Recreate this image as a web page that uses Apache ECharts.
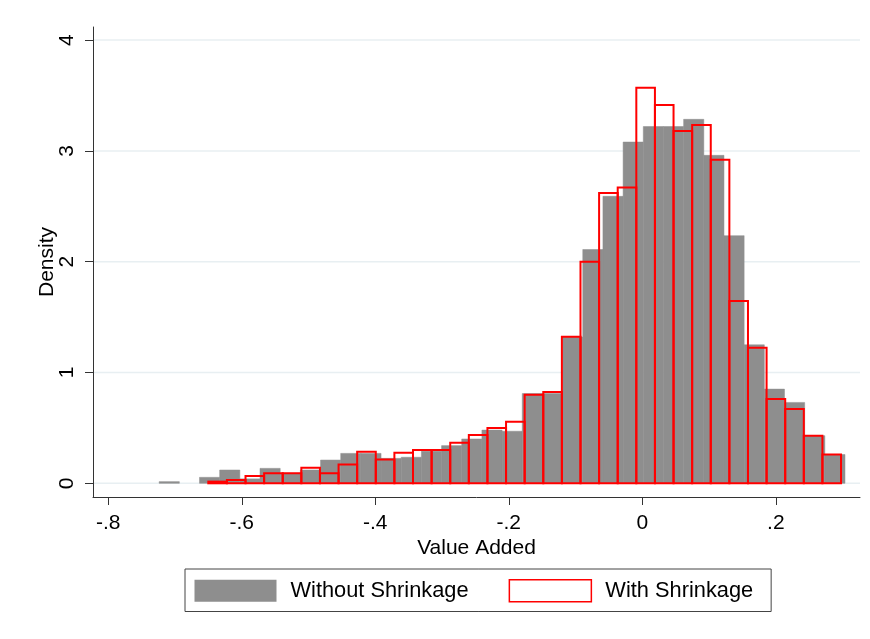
<!DOCTYPE html>
<html>
<head>
<meta charset="utf-8">
<script src="https://cdn.jsdelivr.net/npm/echarts@6/dist/echarts.min.js"></script>
<style>
  html, body { margin: 0; padding: 0; background: #ffffff; }
  #chart { width: 870px; height: 639px; }
</style>
</head>
<body>
<div id="chart"></div>
<script>
// ---- data ----
const xTicks = [-0.8, -0.6, -0.4, -0.2, 0, 0.2];
const xTickLabels = ['-.8', '-.6', '-.4', '-.2', '0', '.2'];
const yTicks = [0, 1, 2, 3, 4];
const yTickLabels = ['0', '1', '2', '3', '4'];

// Without Shrinkage histogram: first bin lower edge, bin width, densities
const grayStart = -0.7238;
const grayWidth = 0.03022;
const grayHeights = [0.015, 0, 0.054, 0.12, 0.04, 0.135, 0.09, 0.12, 0.21, 0.27,
  0.27, 0.225, 0.235, 0.29, 0.34, 0.40, 0.48, 0.47, 0.81, 0.81,
  1.32, 2.11, 2.59, 3.08, 3.22, 3.22, 3.285, 2.96, 2.235, 1.25,
  0.85, 0.73, 0.43, 0.26];

// With Shrinkage histogram
const redStart = -0.6502;
const redWidth = 0.02788;
const redHeights = [0.015, 0.03, 0.066, 0.09, 0.09, 0.14, 0.09, 0.17, 0.285, 0.215,
  0.275, 0.30, 0.30, 0.366, 0.435, 0.50, 0.556, 0.80, 0.824, 1.323,
  2.00, 2.62, 2.67, 3.57, 3.414, 3.18, 3.234, 2.92, 1.645, 1.224,
  0.76, 0.67, 0.43, 0.26];

const seriesNames = ['Without Shrinkage', 'With Shrinkage'];

// ---- build ----
function bins(start, width, heights) {
  return heights.map((h, i) => [start + i * width, start + (i + 1) * width, h]);
}

const GRAY = '#8e8e8e';
const RED = '#ff0000';
const FONT = 'Liberation Sans, Arial, sans-serif';

function barRenderer(style) {
  return function (params, api) {
    const x0 = api.value(0), x1 = api.value(1), h = api.value(2);
    if (!(h > 0)) return null;
    const pTop = api.coord([x0, h]);
    const pBot = api.coord([x1, 0]);
    return {
      type: 'rect',
      shape: { x: pTop[0], y: pTop[1], width: pBot[0] - pTop[0], height: pBot[1] - pTop[1] },
      style: style
    };
  };
}

const xMin = -0.82292, xMax = 0.32614;
const yMin = -0.12365, yMax = 4.1183;

const chart = echarts.init(document.getElementById('chart'), null, { renderer: 'canvas' });
chart.setOption({
  animation: false,
  backgroundColor: '#ffffff',
  grid: { left: 93, right: 10, top: 27, bottom: 142, containLabel: false },
  xAxis: {
    type: 'value',
    min: xMin, max: xMax,
    name: 'Value Added',
    nameLocation: 'middle',
    nameGap: 41,
    nameMoveOverlap: false,
    nameTextStyle: { fontSize: 21, fontFamily: FONT, color: '#000' },
    axisLine: { show: true, onZero: false, lineStyle: { color: '#333', width: 1 } },
    axisTick: { show: true, length: 8, customValues: xTicks, lineStyle: { color: '#333', width: 1 } },
    axisLabel: {
      customValues: xTicks,
      margin: 16,
      fontSize: 21, fontFamily: FONT, color: '#000',
      formatter: function (v) {
        const i = xTicks.findIndex(t => Math.abs(t - v) < 1e-9);
        return i >= 0 ? xTickLabels[i] : '';
      }
    },
    splitLine: { show: false }
  },
  yAxis: {
    type: 'value',
    min: yMin, max: yMax,
    name: 'Density',
    nameLocation: 'middle',
    nameGap: 35,
    nameMoveOverlap: false,
    nameTextStyle: { fontSize: 21, fontFamily: FONT, color: '#000' },
    axisLine: { show: true, onZero: false, lineStyle: { color: '#333', width: 1 } },
    axisTick: { show: true, length: 8, customValues: yTicks, lineStyle: { color: '#333', width: 1 } },
    axisLabel: {
      customValues: yTicks,
      rotate: 90,
      margin: 15,
      fontSize: 21, fontFamily: FONT, color: '#000',
      formatter: function (v) {
        const i = yTicks.findIndex(t => Math.abs(t - v) < 1e-9);
        return i >= 0 ? yTickLabels[i] : '';
      }
    },
    splitLine: { show: false }
  },
  legend: {
    left: 185, top: 569,
    orient: 'horizontal',
    padding: [10, 18, 9, 9.5],
    itemWidth: 82, itemHeight: 22, itemGap: 40,
    borderColor: '#444', borderWidth: 1,
    selectedMode: false,
    textStyle: { fontSize: 21.8, fontFamily: FONT, color: '#000', padding: [0, 0, 0, 9] },
    data: [
      { name: seriesNames[0], icon: 'rect', itemStyle: { color: GRAY, borderWidth: 0 } },
      { name: seriesNames[1], icon: 'rect', itemStyle: { color: '#ffffff', borderColor: RED, borderWidth: 1.5 } }
    ]
  },
  series: [
    {
      name: 'grid',
      type: 'custom',
      silent: true,
      z: 1,
      encode: { x: 0, y: 1 },
      data: yTicks.map(v => [0, v]),
      renderItem: function (params, api) {
        const cs = params.coordSys;
        const y = api.coord([0, api.value(1)])[1];
        return {
          type: 'line',
          shape: { x1: cs.x + 1, y1: y, x2: cs.x + cs.width, y2: y },
          style: { stroke: '#e8eff2', lineWidth: 1.5 }
        };
      }
    },
    {
      name: seriesNames[0],
      type: 'custom',
      z: 2,
      itemStyle: { color: GRAY },
      encode: { x: [0, 1], y: 2 },
      data: bins(grayStart, grayWidth, grayHeights),
      renderItem: barRenderer({ fill: GRAY, stroke: GRAY, lineWidth: 0.5 })
    },
    {
      name: seriesNames[1],
      type: 'custom',
      z: 3,
      itemStyle: { color: '#ffffff', borderColor: RED },
      encode: { x: [0, 1], y: 2 },
      data: bins(redStart, redWidth, redHeights),
      renderItem: barRenderer({ fill: 'transparent', stroke: RED, lineWidth: 2 })
    }
  ]
});
</script>
</body>
</html>
